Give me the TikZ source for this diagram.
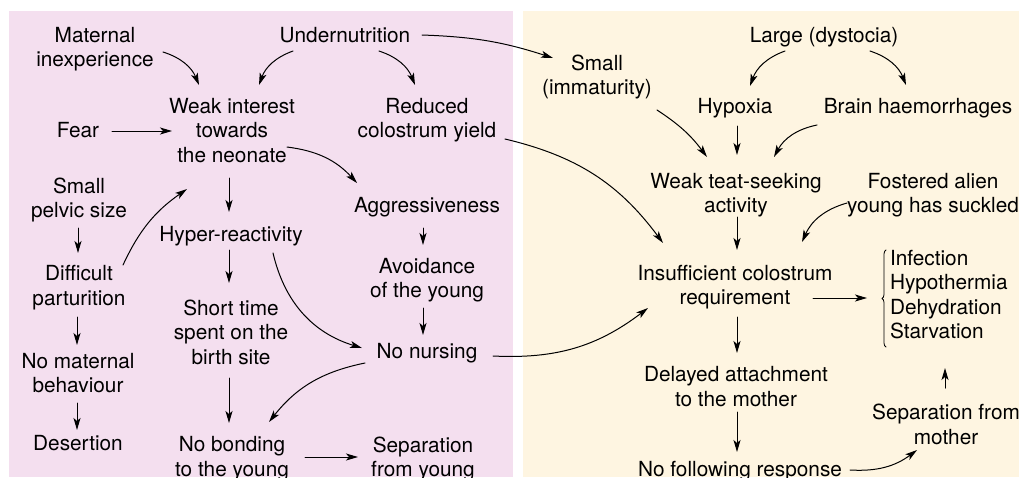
\documentclass[tikz,border=0pt]{standalone}
\usepackage{fontspec}
\setmainfont{TeX Gyre Heros}
\usetikzlibrary{arrows.meta,decorations.pathreplacing}
\definecolor{hongnhat}{RGB}{244,223,239}
\definecolor{kemnhat}{RGB}{254,245,225}
\begin{document}
\begin{tikzpicture}[x=1pt, y=-1pt, line cap=round, line join=round, inner sep=0pt, outer sep=0pt,
	every node/.append style={font=\fontsize{20.8}{24.5}\selectfont, align=center, anchor=base},
	arr/.style={line width=1pt, -{Stealth[length=12pt,width=7pt,inset=3pt]}}]
				
				% Nền hai bên
				\useasboundingbox (0,0) rectangle (1019,477);
				\fill[white] (0,0) rectangle (1019,477);
				\clip (0,0) rectangle (1019,477);
				\fill[hongnhat] (9,11) rectangle (513,477);
				\fill[kemnhat] (523,11) rectangle (1019,477);
				
				% Bên trái: con mẹ (toạ độ = đường chân dòng cuối)
				\node (mat) at (95,66.5) {Maternal\\inexperience};
				\node (und) at (345,42) {Undernutrition};
				\node (weak) at (232,162) {Weak interest\\towards\\the neonate};
				\node (red) at (427,137.5) {Reduced\\colostrum yield};
				\node (fear) at (78,137) {Fear};
				\node (pel) at (79,217.5) {Small\\pelvic size};
				\node (agg) at (427,212.5) {Aggressiveness};
				\node (hyp) at (231,241.5) {Hyper-reactivity};
				\node (dif) at (79,305) {Difficult\\parturition};
				\node (avo) at (427,297.5) {Avoidance\\of the young};
				\node (sho) at (231,364) {Short time\\spent on the\\birth site};
				\node (nonur) at (427,358) {No nursing};
				\node (nomat) at (78,392.5) {No maternal\\behaviour};
				\node (des) at (78,450.5) {Desertion};
				\node (nobond) at (232,476) {No bonding\\to the young};
				\node (sepy) at (423,476.5) {Separation\\from young};
				
				% Bên phải: con non
				\node (small) at (597,94.5) {Small\\(immaturity)};
				\node (large) at (824,42) {Large (dystocia)};
				\node (hypox) at (735,113) {Hypoxia};
				\node (brain) at (918,113) {Brain haemorrhages};
				\node (teat) at (736,212.5) {Weak teat-seeking\\activity};
				\node (fost) at (933,212.5) {Fostered alien\\young has suckled};
				\node (insuf) at (735,304.5) {Insufficient colostrum\\requirement};
				\node[anchor=base west, align=left] (list) at (890,338.5) {Infection\\Hypothermia\\Dehydration\\Starvation};
				\node (del) at (736,406) {Delayed attachment\\to the mother};
				\node (nofol) at (740,476.5) {No following response};
				\node (sepm) at (946,444) {Separation from\\mother};
				
				% Ngoặc nhọn
				\draw[line width=0.8pt, decorate, decoration={brace, amplitude=4pt}] 
				([shift={(-4,8.5)}]list.base west) -- ([shift={(-4,-88.5)}]list.base west);
				
				% Mũi tên bên trái
				\draw[arr] ([shift={(68,-14.5)}]mat.base) to[bend left=25] ([shift={(-33,-77)}]weak.base);
				\draw[arr] ([shift={(-52,9)}]und.base) to[bend right=25] ([shift={(27,-77)}]weak.base);
				\draw[arr] ([shift={(34,9)}]und.base) to[bend left=25] ([shift={(-12,-52.5)}]red.base);
				\draw[arr] ([shift={(34,-6)}]fear.base) -- ([shift={(-60,-31)}]weak.base);
				\draw[arr] ([shift={(55,-15)}]weak.base) to[bend left=20] ([shift={(-70,-29.5)}]agg.base);
				\draw[arr] ([shift={(-3,16)}]weak.base) -- ([shift={(-2,-29.5)}]hyp.base);
				\draw[arr] ([shift={(-1,10.5)}]pel.base) -- ([shift={(-1,-52)}]dif.base);
				\draw[arr] ([shift={(44,-40)}]dif.base) to[bend left=15] ([shift={(-45,27)}]weak.base);
				\draw[arr] ([shift={(-2,8.5)}]hyp.base) -- ([shift={(-2,-81)}]sho.base);
				\draw[arr] ([shift={(-4,15.5)}]agg.base) -- ([shift={(-4,-52.5)}]avo.base);
				\draw[arr] ([shift={(-4,10.5)}]avo.base) -- ([shift={(-4,-23)}]nonur.base);
				\draw[arr] ([shift={(42,11.5)}]hyp.base) to[bend right=30] ([shift={(-65,-10)}]nonur.base);
				\draw[arr] ([shift={(-62,5)}]nonur.base) to[bend right=20] ([shift={(37,-54)}]nobond.base);
				\draw[arr] ([shift={(-2,12)}]dif.base) -- ([shift={(-1,-47.5)}]nomat.base);
				\draw[arr] ([shift={(-1,10.5)}]nomat.base) -- ([shift={(-1,-20.5)}]des.base);
				\draw[arr] ([shift={(-2,14)}]sho.base) -- ([shift={(-3,-53)}]nobond.base);
				\draw[arr] ([shift={(73,-19)}]nobond.base) -- ([shift={(-65,-19.5)}]sepy.base);
				
				% Mũi tên sang bên phải
				\draw[arr] ([shift={(77,-7)}]und.base) to[bend left=8] ([shift={(-44,-36.5)}]small.base);
				\draw[arr] ([shift={(78,1.5)}]red.base) to[bend left=20] ([shift={(-72,-61.5)}]insuf.base);
				\draw[arr] ([shift={(66,-2)}]nonur.base) to[bend right=20] ([shift={(-87,3.5)}]insuf.base);
				
				% Mũi tên bên phải
				\draw[arr] ([shift={(-39,9)}]large.base) to[bend right=25] ([shift={(15,-27)}]hypox.base);
				\draw[arr] ([shift={(46,9)}]large.base) to[bend left=25] ([shift={(-12,-28)}]brain.base);
				\draw[arr] ([shift={(60,15.5)}]small.base) to[bend left=10] ([shift={(-29,-55.5)}]teat.base);
				\draw[arr] ([shift={(2,13)}]hypox.base) -- ([shift={(1,-57.5)}]teat.base);
				\draw[arr] ([shift={(-101,12)}]brain.base) to[bend right=25] ([shift={(38,-55.5)}]teat.base);
				\draw[arr] ([shift={(1,4.5)}]teat.base) -- ([shift={(2,-54.5)}]insuf.base);
				\draw[arr] ([shift={(-86,-9.5)}]fost.base) to[bend right=25] ([shift={(67,-62.5)}]insuf.base);
				\draw[arr] ([shift={(78,-6.5)}]insuf.base) -- ([shift={(-23,-40.5)}]list.base west);
				\draw[arr] ([shift={(2,12.5)}]insuf.base) -- ([shift={(1,-53)}]del.base);
				\draw[arr] ([shift={(1,6)}]del.base) -- ([shift={(-3,-24.5)}]nofol.base);
				\draw[arr] ([shift={(110,-6.5)}]nofol.base) to[bend right=20] ([shift={(-29,6)}]sepm.base);
				\draw[arr] ([shift={(-1,-56)}]sepm.base) -- ([shift={(55,29.5)}]list.base west);
				
			\end{tikzpicture}
\end{document}
